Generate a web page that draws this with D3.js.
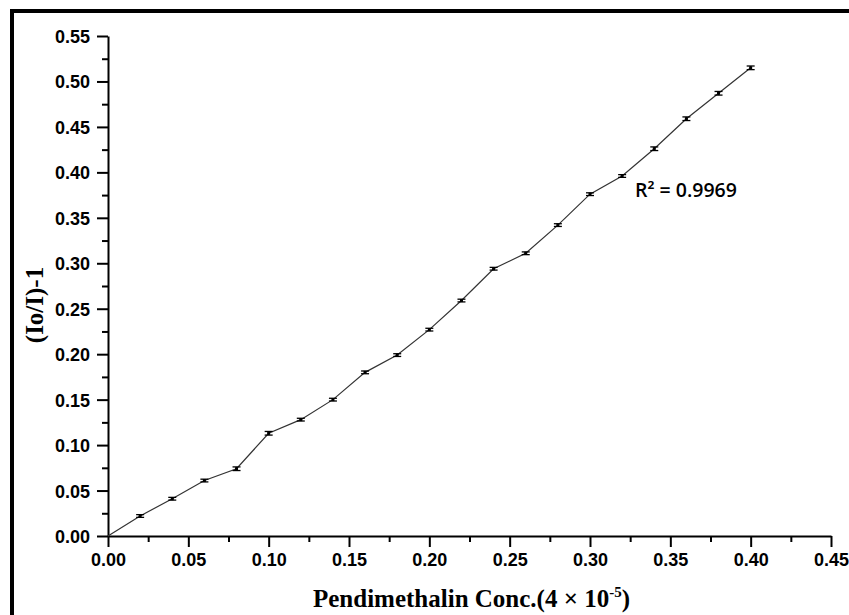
<!DOCTYPE html>
<html>
<head>
<meta charset="utf-8">
<script src="https://cdn.jsdelivr.net/npm/d3@7"></script>
<style>
  html, body { margin: 0; padding: 0; background: #fff; }
  svg { display: block; }
</style>
</head>
<body>
<svg id="chart" width="849" height="615"></svg>
<script>
// ---- data ----
const concentrations = [0, 0.02, 0.04, 0.06, 0.08, 0.10, 0.12, 0.14, 0.16, 0.18, 0.20,
                        0.22, 0.24, 0.26, 0.28, 0.30, 0.32, 0.34, 0.36, 0.38, 0.40];
const responses = [0, 0.022, 0.041, 0.061, 0.074, 0.113, 0.128, 0.150, 0.180, 0.199, 0.227,
                   0.259, 0.294, 0.311, 0.342, 0.376, 0.396, 0.426, 0.459, 0.487, 0.515];
const errors = [0, 0.0015, 0.0015, 0.0015, 0.002, 0.002, 0.0015, 0.0015, 0.0015, 0.0015, 0.0015,
                0.0015, 0.0015, 0.0015, 0.0015, 0.0015, 0.0015, 0.002, 0.002, 0.002, 0.002];
const xTicks = [0, 0.05, 0.10, 0.15, 0.20, 0.25, 0.30, 0.35, 0.40, 0.45];
const yTicks = [0, 0.05, 0.10, 0.15, 0.20, 0.25, 0.30, 0.35, 0.40, 0.45, 0.50, 0.55];
const xMinorTicks = [0.025, 0.075, 0.125, 0.175, 0.225, 0.275, 0.325, 0.375, 0.425];
const yMinorTicks = [0.025, 0.075, 0.125, 0.175, 0.225, 0.275, 0.325, 0.375, 0.425, 0.475, 0.525];
const xTitle = "Pendimethalin Conc.(4 × 10";
const yTitle = "(Io/I)-1";
const r2Label = "R² = 0.9969";

const data = concentrations.map((c, i) => ({ x: c, y: responses[i], e: errors[i] }));

const svg = d3.select("#chart");
const W = 849, H = 615;
const mLeft = 108, mRight = 831, mTop = 36, mBottom = 536;

// frame decoration
svg.append("rect").attr("x", 10).attr("y", 9).attr("width", W - 10).attr("height", 4).attr("fill", "#000");
svg.append("rect").attr("x", 10).attr("y", 9).attr("width", 4).attr("height", H - 9).attr("fill", "#000");

const x = d3.scaleLinear().domain([0, 0.45]).range([mLeft, mRight]);
const y = d3.scaleLinear().domain([0, 0.55]).range([mBottom, mTop]);

const tickFont = "'Liberation Sans', Arial, sans-serif";

// x axis
const gx = svg.append("g").attr("transform", `translate(0,${mBottom})`);
gx.call(d3.axisBottom(x).tickValues(xTicks).tickFormat(d3.format(".2f")).tickSize(11).tickSizeOuter(0));
gx.append("g").call(d3.axisBottom(x).tickValues(xMinorTicks).tickFormat("").tickSize(6).tickSizeOuter(0))
  .select(".domain").remove();
// y axis
const gy = svg.append("g").attr("transform", `translate(${mLeft},0)`);
gy.call(d3.axisLeft(y).tickValues(yTicks).tickFormat(d3.format(".2f")).tickSize(11).tickSizeOuter(0));
gy.append("g").call(d3.axisLeft(y).tickValues(yMinorTicks).tickFormat("").tickSize(6).tickSizeOuter(0))
  .select(".domain").remove();

svg.selectAll(".domain").attr("stroke", "#000").attr("stroke-width", 2);
svg.selectAll(".tick line").attr("stroke", "#000").attr("stroke-width", 2);
gx.selectAll(".tick text").attr("font-family", tickFont).attr("font-weight", "bold")
  .attr("font-size", 18).attr("fill", "#000").attr("dy", 0).attr("y", 30);
gy.selectAll(".tick text").attr("font-family", tickFont).attr("font-weight", "bold")
  .attr("font-size", 18).attr("fill", "#000").attr("x", -18).attr("dy", "0.36em");

// line
svg.append("path").datum(data)
  .attr("d", d3.line().x(d => x(d.x)).y(d => y(d.y)))
  .attr("fill", "none").attr("stroke", "#333").attr("stroke-width", 1.2);

// error bars
const eb = svg.append("g").selectAll("g").data(data.filter(d => d.e > 0)).join("g");
eb.append("line").attr("x1", d => x(d.x)).attr("x2", d => x(d.x))
  .attr("y1", d => y(d.y - d.e)).attr("y2", d => y(d.y + d.e))
  .attr("stroke", "#000").attr("stroke-width", 1.5);
eb.append("line").attr("x1", d => x(d.x) - 4).attr("x2", d => x(d.x) + 4)
  .attr("y1", d => y(d.y + d.e)).attr("y2", d => y(d.y + d.e))
  .attr("stroke", "#000").attr("stroke-width", 1.3);
eb.append("line").attr("x1", d => x(d.x) - 4).attr("x2", d => x(d.x) + 4)
  .attr("y1", d => y(d.y - d.e)).attr("y2", d => y(d.y - d.e))
  .attr("stroke", "#000").attr("stroke-width", 1.3);

// markers
svg.append("g").selectAll("rect").data(data.filter(d => d.x > 0)).join("rect")
  .attr("x", d => x(d.x) - 1.5).attr("y", d => y(d.y) - 1.5)
  .attr("width", 3).attr("height", 3).attr("fill", "#000");

// axis titles
const xt = svg.append("text").attr("x", (mLeft + mRight) / 2 + 2).attr("y", 607)
  .attr("text-anchor", "middle")
  .attr("font-family", "'Liberation Serif', 'Times New Roman', serif")
  .attr("font-weight", "bold").attr("font-size", 25).attr("fill", "#000");
xt.append("tspan").text(xTitle);
xt.append("tspan").attr("font-size", 15).attr("dy", -10).text("-5");
xt.append("tspan").attr("dy", 10).text(")");

svg.append("text")
  .attr("transform", `translate(43,305) rotate(-90)`)
  .attr("text-anchor", "middle")
  .attr("font-family", "'Liberation Serif', 'Times New Roman', serif")
  .attr("font-weight", "bold").attr("font-size", 25).attr("fill", "#000")
  .text(yTitle);

// R² annotation
svg.append("text").attr("x", 635).attr("y", 197)
  .attr("font-family", "'Open Sans', 'Noto Sans', sans-serif")
  .attr("font-weight", 600).attr("font-size", 19.5).attr("fill", "#000")
  .text(r2Label);
</script>
</body>
</html>
